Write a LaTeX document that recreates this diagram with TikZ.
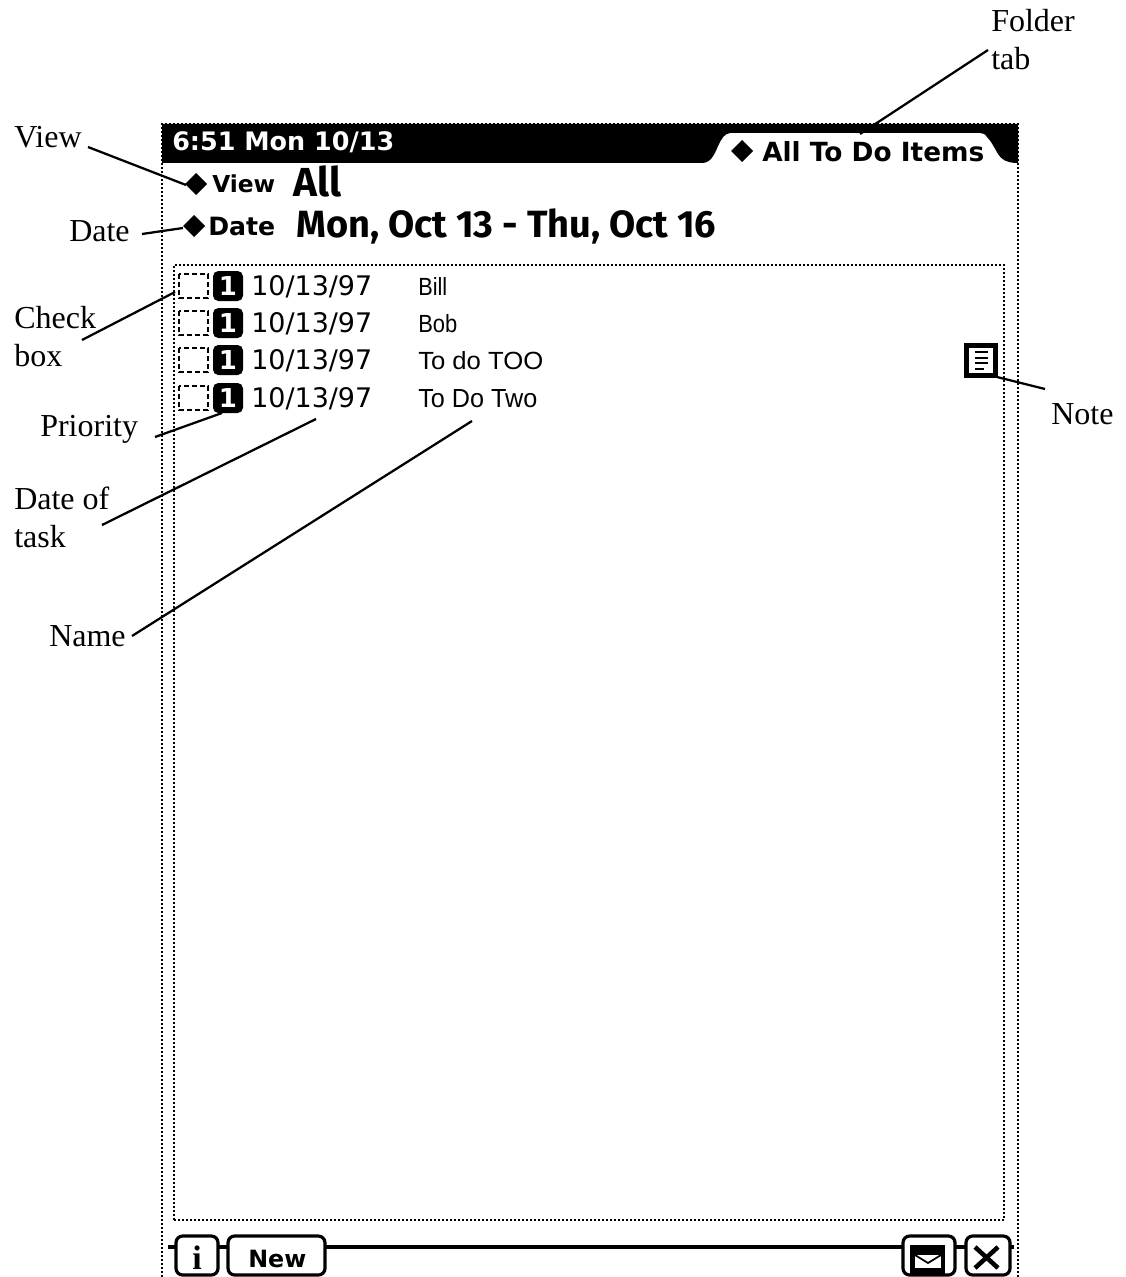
\documentclass[tikz,border=0pt]{standalone}
\usepackage{fontspec}
\usepackage{graphicx}
\setmainfont{Liberation Serif}
\newfontfamily\djv{DejaVu Sans}
\newfontfamily\lib{Liberation Sans}
\newfontfamily\casual{Fira Sans}
\newcommand{\fs}[1]{\fontsize{\fpeval{#1*0.75}pt}{\fpeval{#1*0.9}pt}\selectfont}
\newcommand{\fitw}[2]{\resizebox{\fpeval{#1*0.75}pt}{!}{#2}}
\newcommand{\fitwh}[3]{\resizebox{\fpeval{#1*0.75}pt}{\fpeval{#2*0.75}pt}{#3}}
\tikzset{
  lbl/.style={anchor=base west,inner sep=0pt,font=\fs{32}},
  scr/.style={anchor=base west,inner sep=0pt},
  conn/.style={draw=black,line width=1.7pt},
  framedot/.style={draw=black,line width=1.7pt,dash pattern=on 1.5pt off 1.5pt},
  btn/.style={draw=black,line width=2.4pt,fill=white,rounded corners=5pt},
  dia/.style={fill=black},
  pribox/.style={fill=black,rounded corners=4pt},
  chk/.style={draw=black,line width=1.7pt,dash pattern=on 4pt off 2pt},
}
\begin{document}
\begin{tikzpicture}[x=0.75pt,y=-0.75pt]
\useasboundingbox (0,0) rectangle (1126,1277);
\clip (0,0) rectangle (1126,1277);
% header bar and folder tab
\fill[black] (162,124) -- (1018,124) -- (1018,163) -- (1015,163) .. controls (1006,162) and (1002,160) .. (998,154) .. controls (994,147) and (991,141) .. (987,137) .. controls (985,134) and (983,133) .. (980,133) -- (730,133) .. controls (724,134) and (722,138) .. (718,146) .. controls (714,156) and (710,163) .. (702,163) -- (162,163) -- cycle;
% frames
\draw[framedot] (162,1277) -- (162,124) -- (1018,124) -- (1018,1277);
\draw[framedot] (174,1220) -- (174,265) -- (1004,265) -- (1004,1220) -- cycle;
% header texts
\node[scr,text=white] (clock) at (172,151) {\fitw{222}{\djv\bfseries 6:51 Mon 10/13}};
\fill[dia] (731,151) -- (742,140) -- (753,151) -- (742,162) -- cycle;
\node[scr] (tabtext) at (762,162) {\fitw{222}{\djv\bfseries All To Do Items}};
\fill[dia] (185,184) -- (196,173) -- (207,184) -- (196,195) -- cycle;
\fill[dia] (183,226) -- (194,215) -- (205,226) -- (194,237) -- cycle;
\node[scr] (viewlbl) at (212,193) {\fitw{63}{\djv\bfseries View}};
\node[scr] (datelbl) at (208,235) {\fitw{67}{\djv\bfseries Date}};
\node[scr] (viewval) at (293,196) {\fitw{48}{\casual\bfseries All}};
\node[scr] (dateval) at (296,238) {\fitw{420}{\casual\bfseries Mon, Oct 13 - Thu, Oct 16}};
% rows
\foreach \n/\y/\t/\w in {1/286/Bill/29,2/323/Bob/39,3/360/To do TOO/125,4/398/To Do Two/119}{
  \draw[chk] (179,\y-12) rectangle (208,\y+12);
  \fill[pribox] (213,\y-15) rectangle (243,\y+15);
  \node[inner sep=0pt,text=white] (pri\n) at (228,\y) {\djv\bfseries\fs{26}1};
  \node[scr] (dt\n) at (251,\y+9) {\fitw{121}{\djv\fs{26}10/13/97}};
  \node[scr] (nm\n) at (418,\y+9) {\fitwh{\w}{18}{\lib\fs{25}\t}};
}
% note icon
\draw[black,line width=3.6pt] (966.5,345.5) rectangle (995.5,375.5);
\foreach \y in {352,358,363}{\draw[black,line width=1.8pt] (975,\y) -- (988,\y);}
\draw[black,line width=1.8pt] (975,369) -- (984,369);
% bottom bar
\draw[black,line width=2.6pt] (168,1247) -- (1014,1247);
\draw[btn] (176,1236) rectangle (218,1275);
\draw[btn] (228,1236) rectangle (325,1275);
\draw[btn] (903,1236) rectangle (955,1275);
\draw[btn] (966,1236) rectangle (1010,1275);
\node[inner sep=0pt] (infoi) at (197,1258) {\bfseries\fs{34}i};
\node[scr] (newb) at (248,1267) {\fitw{58}{\djv\bfseries New}};
\fill[black] (910,1245) rectangle (945,1274);
\fill[white] (915,1255) rectangle (941,1268);
\draw[black,line width=1.3pt] (915,1255) -- (928,1263) -- (941,1255);
\draw[black,line width=3.4pt] (975,1247) -- (998,1268);
\draw[black,line width=3.4pt] (998,1247) -- (975,1268);
% callout labels
\node[lbl] (folder) at (991,32) {Folder};
\node[lbl] (tab) at (991,70) {tab};
\node[lbl] (view) at (14,148) {View};
\node[lbl] (date) at (69,241) {Date};
\node[lbl] (check) at (14,328) {Check};
\node[lbl] (box) at (14,366) {box};
\node[lbl] (priority) at (40,436) {Priority};
\node[lbl] (dateof) at (14,509) {Date of};
\node[lbl] (task) at (14,547) {task};
\node[lbl] (name) at (49,646) {Name};
\node[lbl] (note) at (1051,424) {Note};
% connector ends
\coordinate (a1) at (988,50);   \coordinate (b1) at (860,134);
\coordinate (a2) at (88,147);   \coordinate (b2) at (186,185);
\coordinate (a3) at (142,234);  \coordinate (b3) at (183,228);
\coordinate (a4) at (82,340);   \coordinate (b4) at (175,292);
\coordinate (a5) at (155,437);  \coordinate (b5) at (222,413);
\coordinate (a6) at (102,525);  \coordinate (b6) at (316,419);
\coordinate (a7) at (132,636);  \coordinate (b7) at (472,421);
\coordinate (a8) at (1045,389); \coordinate (b8) at (997,377);
\foreach \i in {1,...,8}{\draw[conn] (a\i) -- (b\i);}
\end{tikzpicture}
\end{document}
